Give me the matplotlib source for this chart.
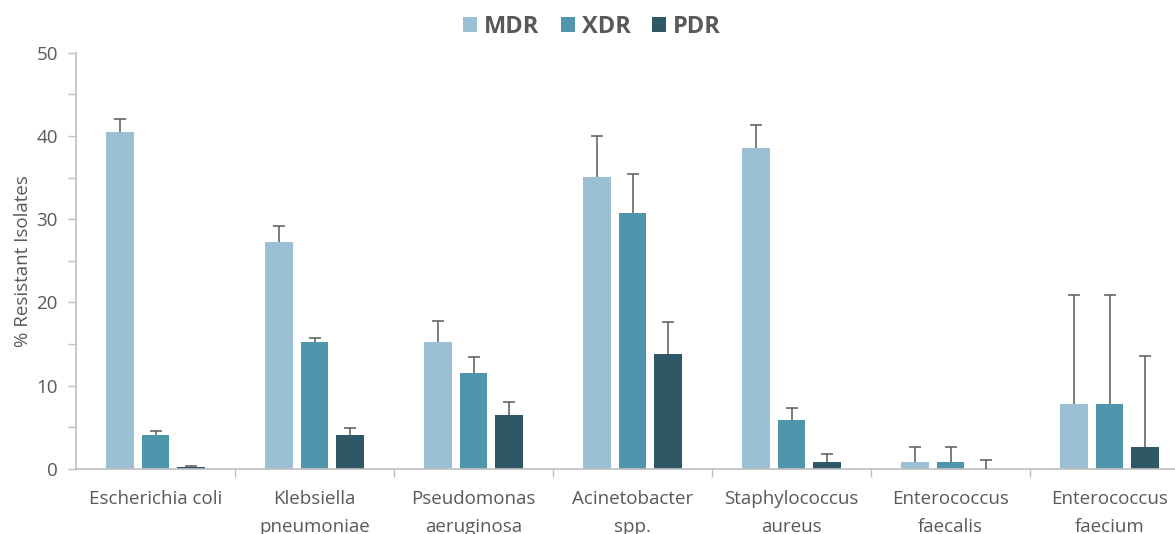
import numpy as np
import matplotlib.pyplot as plt

plt.rcParams["font.family"] = ["Open Sans", "DejaVu Sans"]

# data (% resistant isolates, upper error bar length)
species = [
    "Escherichia coli",
    "Klebsiella\npneumoniae",
    "Pseudomonas\naeruginosa",
    "Acinetobacter\nspp.",
    "Staphylococcus\naureus",
    "Enterococcus\nfaecalis",
    "Enterococcus\nfaecium",
]
mdr = [40.5, 27.3, 15.3, 35.1, 38.5, 0.8, 7.8]
xdr = [4.1, 15.3, 11.5, 30.7, 5.9, 0.8, 7.8]
pdr = [0.2, 4.1, 6.5, 13.8, 0.9, 0.0, 2.6]
mdr_err = [1.5, 1.9, 2.5, 4.9, 2.8, 1.8, 13.1]
xdr_err = [0.5, 0.4, 2.0, 4.7, 1.45, 1.8, 13.1]
pdr_err = [0.15, 0.8, 1.6, 3.8, 0.9, 1.06, 11.0]

series = [
    ("MDR", mdr, mdr_err, "#9bbfd3"),
    ("XDR", xdr, xdr_err, "#4f96ad"),
    ("PDR", pdr, pdr_err, "#2e5865"),
]

grey = "#595959"
axis_grey = "#bfbfbf"

fig = plt.figure(figsize=(11.75, 5.34), dpi=100)
ax = fig.add_axes([76 / 1175, (534 - 469) / 534, 1 - 76 / 1175, (469 - 52.7) / 534])

x = np.arange(len(species))
step = 0.223
width = 0.176
for k, (name, vals, err, color) in enumerate(series):
    pos = x + (k - 1) * step
    vals = np.array(vals)
    err = np.array(err)
    ax.bar(pos, vals, width=width, color=color, label=name, zorder=2)
    ax.vlines(pos, vals, vals + err, color=grey, lw=1.1, zorder=3)
    ax.plot(pos, vals + err, ls="none", marker="_", ms=9, mew=1.1, color=grey, zorder=3)

ax.set_xlim(-0.5, -0.5 + (1175 - 76) / 159)
ax.set_ylim(0, 50)

ax.set_yticks(np.arange(0, 51, 10))
ax.set_yticks(np.arange(5, 50, 10), minor=True)
ax.tick_params(axis="y", which="both", length=6, width=1, color=axis_grey,
               labelsize=13.5, labelcolor=grey, pad=7)

# boundaries get the ticks, centres get the labels
ax.set_xticks(np.arange(0.5, len(species) - 0.5, 1))
ax.set_xticklabels([])
ax.set_xticks(x, minor=True)
ax.set_xticklabels(species, minor=True, linespacing=1.7)
ax.tick_params(axis="x", which="major", length=6, width=1, color=axis_grey)
ax.tick_params(axis="x", which="minor", length=0, labelsize=13.5, labelcolor=grey, pad=15)

for side in ["top", "right"]:
    ax.spines[side].set_visible(False)
for side in ["left", "bottom"]:
    ax.spines[side].set_color(axis_grey)
    ax.spines[side].set_linewidth(1.2)

ax.set_ylabel("% Resistant Isolates", fontsize=13.5, color=grey, labelpad=3)

leg = fig.legend(
    loc="center",
    bbox_to_anchor=(592 / 1175, (534 - 27) / 534),
    ncol=3,
    frameon=False,
    handlelength=0.6,
    handleheight=0.6,
    handletextpad=0.3,
    columnspacing=0.9,
    prop={"weight": "bold", "size": 17},
)
for t in leg.get_texts():
    t.set_color(grey)

fig.savefig("out.png", dpi=100)
